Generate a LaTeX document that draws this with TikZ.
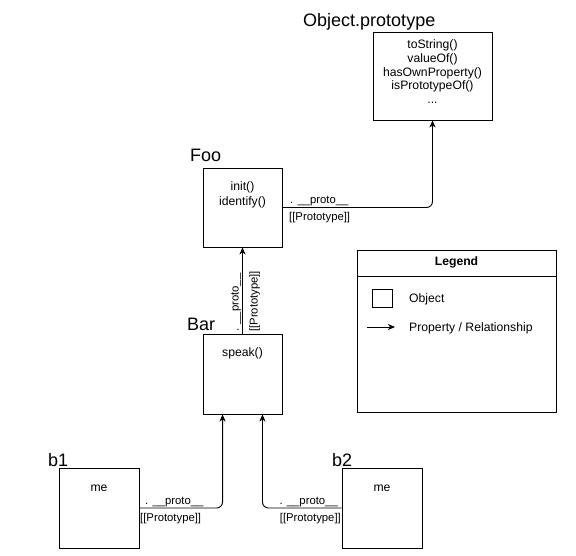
\documentclass[tikz,border=0pt]{standalone}
\usepackage{fontspec}
\setmainfont{Liberation Sans}
\usetikzlibrary{arrows.meta,calc}

\begin{document}
\begin{tikzpicture}[x=1pt,y=-1pt,
  objbox/.style={draw=black,line width=0.9pt,inner sep=0pt,minimum width=#1},
  body/.style={inner sep=0pt,align=center,font=\fontsize{12.2}{13.9}\selectfont},
  lbl/.style={inner sep=0pt,font=\fontsize{11.3}{13}\selectfont},
  title/.style={inner sep=0pt,anchor=base west,font=\fontsize{18}{20}\selectfont},
  link/.style={line width=0.9pt,rounded corners=6pt,-{Stealth[length=7pt,width=6pt,inset=2pt]}}]

\useasboundingbox (0,0) rectangle (576,555);

% object boxes
\node[objbox=119pt,minimum height=88pt] (objp) at (432.5,76) {};
\node[objbox=79pt,minimum height=79pt] (foo) at (242.5,207.5) {};
\node[objbox=79pt,minimum height=80pt] (bar) at (242.5,374) {};
\node[objbox=80pt,minimum height=80pt] (b1) at (99,508) {};
\node[objbox=80pt,minimum height=80pt] (b2) at (382,508) {};

% titles above the boxes
\node[title] (objpT) at (303,26) {Object.prototype};
\node[title] (fooT) at (190,161.5) {Foo};
\node[title] (barT) at (187,330) {Bar};
\node[title] (b1T) at (48,466) {b1};
\node[title] (b2T) at (332,466) {b2};

% members (anchored at the baseline of the last line)
\node[body,anchor=base] (objpM) at (432.5,103.8) {toString()\\valueOf()\\hasOwnProperty()\\isPrototypeOf()\\...};
\node[body,anchor=base,font=\fontsize{12.2}{15}\selectfont] (fooM) at (242.5,205) {init()\\identify()};
\node[body,anchor=base] (barM) at (242.5,356.7) {speak()};
\node[body,anchor=base] (b1M) at (99,491) {me};
\node[body,anchor=base] (b2M) at (382,491) {me};

% prototype links
\coordinate (barIn1) at ([xshift=20pt]bar.south west);
\coordinate (barIn2) at ([xshift=-20pt]bar.south east);
\draw[link] (foo.east) -| (objp.south);
\draw[link] (bar.north) -- (foo.south);
\draw[link] (b1.east) -| (barIn1);
\draw[link] (b2.west) -| (barIn2);

% link labels
\node[lbl,anchor=base west] (l1a) at (290,203) {. \_\_proto\_\_};
\node[lbl,anchor=base west] (l1b) at (289,220) {[[Prototype]]};
\node[lbl,anchor=base west,rotate=90] (l2a) at (238.5,332) {. \_\_proto\_\_};
\node[lbl,anchor=base west,rotate=90] (l2b) at (257.5,332) {[[Prototype]]};
\node[lbl,anchor=base west] (l3a) at (145,504) {. \_\_proto\_\_};
\node[lbl,anchor=base west] (l3b) at (140,521.5) {[[Prototype]]};
\node[lbl,anchor=base east] (l4a) at (338,504) {. \_\_proto\_\_};
\node[lbl,anchor=base east] (l4b) at (341,521.5) {[[Prototype]]};

% legend
\node[draw=black,line width=0.9pt,inner sep=0pt,minimum width=199pt,minimum height=162pt] (legend) at (456.5,331) {};
\coordinate (legL) at (357,276);
\coordinate (legR) at (556,276);
\draw[line width=0.9pt] (legL) -- (legR);
\node[body,anchor=base,font=\bfseries\fontsize{12.2}{14}\selectfont] (legT) at (456.5,265.7) {Legend};
\node[draw=black,line width=0.9pt,inner sep=0pt,minimum width=20pt,minimum height=18pt] (legBox) at (382,298) {};
\node[body,anchor=base west] (legObj) at (409,302.3) {Object};
\coordinate (legA1) at (367,327);
\coordinate (legA2) at (395,327);
\draw[link] (legA1) -- (legA2);
\node[body,anchor=base west] (legRel) at (409,331) {Property / Relationship};
\end{tikzpicture}
\end{document}
